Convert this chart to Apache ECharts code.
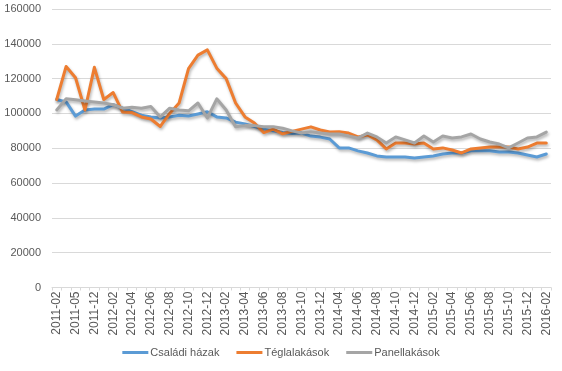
<!DOCTYPE html>
<html><head><meta charset="utf-8">
<script src="https://cdn.jsdelivr.net/npm/echarts@6/dist/echarts.min.js"></script>
<style>html,body{margin:0;padding:0;background:#fff}#c{width:562px;height:371px}</style>
</head><body><div id="c"></div>
<script>
const categories = ['2011-02','2011-03','2011-05','2011-09','2011-12',
'2012-01','2012-02','2012-03','2012-04','2012-05','2012-06','2012-07','2012-08','2012-09','2012-10','2012-11','2012-12',
'2013-01','2013-02','2013-03','2013-04','2013-05','2013-06','2013-07','2013-08','2013-09','2013-10','2013-11','2013-12',
'2014-02','2014-04','2014-05','2014-06','2014-07','2014-08','2014-09','2014-10','2014-11','2014-12',
'2015-01','2015-02','2015-03','2015-04','2015-05','2015-06','2015-07','2015-08','2015-09','2015-10','2015-11','2015-12',
'2016-01','2016-02'];
const csaladiHazak = [108000,106600,98500,102000,102500,102500,105000,103000,101000,99000,98000,97400,98000,99000,98500,99700,101000,
98000,97400,95000,94000,92500,91000,90000,89000,88500,88700,87000,86400,85300,80200,80200,78500,77300,75600,75000,75000,75000,74400,
75000,75600,76700,77300,77300,78500,78500,78500,77900,77900,77300,76100,75000,76700];
const teglalakasok = [108000,127000,120500,102000,126500,108000,112000,100800,100500,98000,96800,92500,100000,106000,125800,133500,136500,
126000,120000,106000,98000,94500,89000,91000,88300,89700,91000,92300,90500,89300,89500,88700,86500,87600,84800,79600,83000,83000,82400,
83000,79600,80200,79000,77300,79600,80200,80700,80700,80700,79600,80700,83000,83000];
const panellakasok = [102000,108400,107800,107200,106600,106000,105000,103000,103500,103000,104000,98000,103000,102000,101500,106000,97400,
108400,102000,92300,93000,93000,92300,92300,91500,90000,88700,89500,88700,88200,88200,87000,85900,88700,86500,83000,86500,84800,83000,
87000,83600,87000,85900,86500,88200,85300,83600,82400,80200,83000,85900,86500,89300];
const seriesNames = ['Családi házak','Téglalakások','Panellakások'];
const colors = ['#5B9BD5','#ED7D31','#A5A5A5'];

const chart = echarts.init(document.getElementById('c'), null, {renderer:'canvas'});
const font = 'Liberation Sans, Arial, sans-serif';
function mk(name, data, color){
  return {name, type:'line', data, symbol:'none', smooth:false,
    lineStyle:{width:3, color, shadowColor:'rgba(0,0,0,0.3)', shadowBlur:3, shadowOffsetY:2, shadowOffsetX:1, cap:'round', join:'round'},
    itemStyle:{color}};
}
chart.setOption({
  animation:false,
  textStyle:{fontFamily:font},
  grid:{left:52, right:11, top:9, bottom:83.5, containLabel:false},
  legend:{bottom:8, left:'center', icon:'rect', itemWidth:26, itemHeight:3, itemGap:17,
    textStyle:{color:'#595959', fontSize:11, fontFamily:font, padding:[0,0,0,-3]},
    data:seriesNames},
  xAxis:{type:'category', data:categories, boundaryGap:true,
    axisLine:{lineStyle:{color:'#D9D9D9'}},
    axisTick:{show:true, alignWithLabel:false, interval:0, length:3, lineStyle:{color:'#D9D9D9'}},
    axisLabel:{interval:1, rotate:90, fontSize:12, color:'#595959', margin:4, fontFamily:font}},
  yAxis:{type:'value', min:0, max:160000, interval:20000,
    axisLine:{show:false}, axisTick:{show:false},
    splitLine:{lineStyle:{color:'#D9D9D9'}},
    axisLabel:{fontSize:11, color:'#595959', margin:11, fontFamily:font, formatter:v => String(v)}},
  series:[mk(seriesNames[0], csaladiHazak, colors[0]), mk(seriesNames[1], teglalakasok, colors[1]), mk(seriesNames[2], panellakasok, colors[2])]
});
</script></body></html>
